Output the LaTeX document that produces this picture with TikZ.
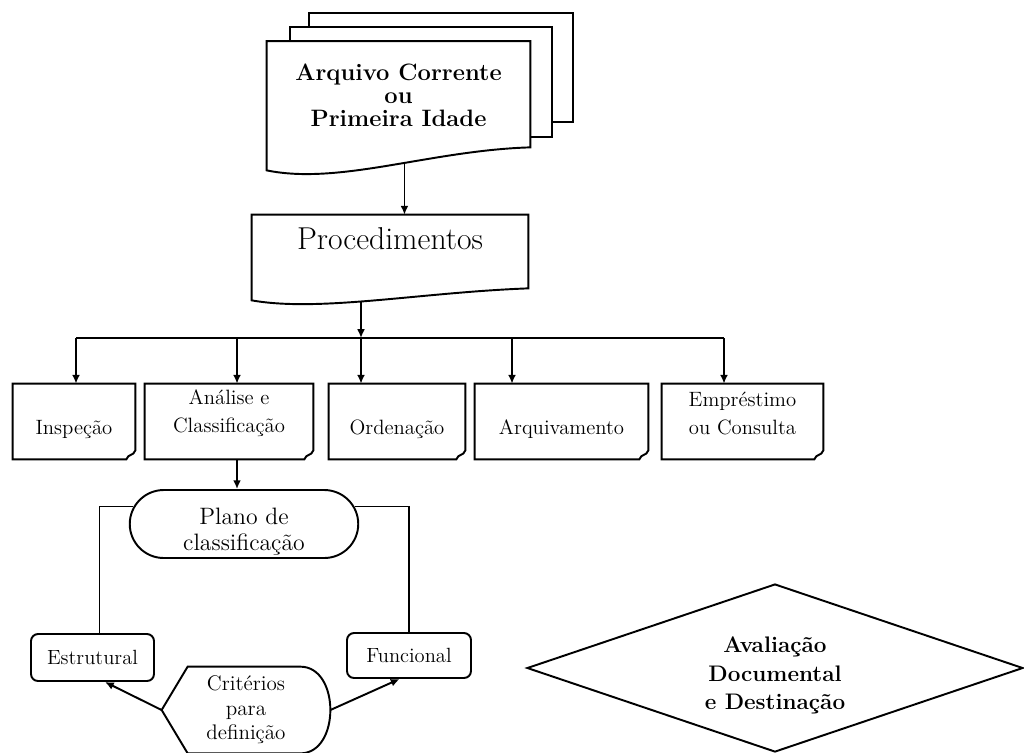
\documentclass[tikz,border=0pt]{standalone}
\usetikzlibrary{arrows.meta,shapes.geometric,shapes.misc,backgrounds,calc}
\newcommand{\px}{0.02cm}
% texto centrado, deslocado na vertical (#1 > 0 sobe)
\newcommand{\shifted}[2]{\raisebox{\dimexpr#1-.25em\relax}[0pt][0pt]{%
  \begin{tabular}{@{}c@{}}#2\end{tabular}}}
\tikzset{%
  line/.style={line width=1.1pt,draw=black},
  arr/.style={line,-{Latex[length=5pt,width=4.5pt]}},
  sheet/.style={line,fill=white},
  notebox/.style={minimum height=75*\px,inner sep=1pt,
    font=\fontsize{11.8}{16}\selectfont},
  rbox/.style={line,rounded corners=4pt,inner sep=1pt,
    font=\fontsize{11.7}{13}\selectfont},
}
\begin{document}
\begin{tikzpicture}[x=\px,y=-\px]
  \clip (0,0) rectangle (1024,752);
  % pilha de documentos
  \node[minimum width=263*\px,minimum height=107*\px,inner sep=0pt,align=center,
    font=\bfseries\fontsize{13.5}{13}\selectfont] (arq) at (398.5,95)
    {Arquivo Corrente\\ou\\Primeira Idade};
  \node[minimum width=276*\px,minimum height=73*\px,inner sep=0pt,text depth=15pt,
    font=\fontsize{18}{20}\selectfont] (proc) at (390,251.5) {Procedimentos};
  \begin{scope}[on background layer]
    \draw[sheet] ([shift={(42,-28.5)}]arq.north west) rectangle ([shift={(43,-26.5)}]arq.south east);
    \draw[sheet] ([shift={(23,-14.5)}]arq.north west) rectangle ([shift={(22,-11.5)}]arq.south east);
    \draw[sheet] (arq.north west) -- (arq.north east) -- ([shift={(0,-1.5)}]arq.south east)
      .. controls +(-100,3) and +(73,15) .. ([shift={(0,21.5)}]arq.south west)
      coordinate[pos=0.44] (arqout) -- cycle;
    \draw[sheet] (proc.north west) -- (proc.north east) -- (proc.south east)
      .. controls +(-108,4) and +(68,12) .. ([shift={(0,12)}]proc.south west)
      coordinate[pos=0.55] (procout) -- cycle;
  \end{scope}
  \draw[arr] (arqout) -- (arqout |- proc.north);
  % barramento
  \coordinate (bus) at (0,338);
  \coordinate (tap1) at (76,338);
  \coordinate (tap2) at (237,338);
  \coordinate (tap3) at (procout |- bus);
  \coordinate (tap4) at (512,338);
  \coordinate (tap5) at (724,338);
  \draw[arr] (procout) -- (tap3);
  \draw[line] (tap1) -- (tap5);
  % procedimentos
  \node[notebox,minimum width=122*\px] (insp) at (74,421.5) {\shifted{-4pt}{Inspeção}};
  \node[notebox,minimum width=168*\px] (anal) at (229,421.5) {\shifted{5pt}{Análise e\\Classificação}};
  \node[notebox,minimum width=136*\px] (orde) at (397,421.5) {\shifted{-4pt}{Ordenação}};
  \node[notebox,minimum width=173*\px] (arqv) at (561.5,421.5) {\shifted{-4pt}{Arquivamento}};
  \node[notebox,minimum width=161*\px] (empr) at (742.5,421.5) {\shifted{3.5pt}{Empréstimo\\ou Consulta}};
  \foreach \b in {insp,anal,orde,arqv,empr}
    \draw[line] (\b.south west) -- (\b.north west) -- (\b.north east)
      -- ([shift={(0,-9)}]\b.south east)
      .. controls ([shift={(-2,-3)}]\b.south east) and ([shift={(-7,-6)}]\b.south east)
      .. ([shift={(-9,0)}]\b.south east) -- cycle;
  \foreach \t/\b in {1/insp,2/anal,3/orde,4/arqv,5/empr}
    \draw[arr] (tap\t) -- (tap\t |- \b.north);
  % plano de classificacao
  \node[rounded rectangle,line,minimum width=232*\px,minimum height=68*\px,inner sep=1pt,
    font=\fontsize{13.5}{15}\selectfont] (plano) at (244,524)
    {\shifted{-4.8pt}{Plano de\\classificação}};
  \draw[arr] (tap2 |- anal.south) -- (tap2 |- plano.north);
  \node[rbox,minimum width=123*\px,minimum height=47*\px] (estr) at (92.5,657.5) {Estrutural};
  \node[rbox,minimum width=124*\px,minimum height=45*\px] (func) at (409,655.5) {Funcional};
  \draw[line] (plano.171) -| ([xshift=7*\px]estr.north);
  \draw[line] (plano.9) -| (func.north);
  % criterios
  \node[minimum width=168*\px,minimum height=86*\px,inner sep=0pt,align=center,
    font=\fontsize{12}{14}\selectfont] (crit) at (246,710) {Critérios\\para\\definição};
  \draw[line] (crit.west) -- ([shift={(26,0)}]crit.north west) -- ([shift={(-30,0)}]crit.north east)
    .. controls ([shift={(10,0)}]crit.north east) and ([shift={(10,0)}]crit.south east)
    .. ([shift={(-30,0)}]crit.south east) -- ([shift={(26,0)}]crit.south west) -- cycle;
  \draw[arr] (crit.west) -- ($(estr.south)!0.2!(estr.south east)$);
  \draw[arr] (crit.east) -- ($(func.south)!0.15!(func.south west)$);
  % avaliacao
  \node[diamond,aspect=3,line,minimum width=496*\px,minimum height=168*\px,inner sep=0pt,
    font=\bfseries\fontsize{12.8}{16}\selectfont] (aval) at (775,668)
    {\shifted{-4pt}{Avaliação\\Documental\\e Destinação}};
\end{tikzpicture}
\end{document}
